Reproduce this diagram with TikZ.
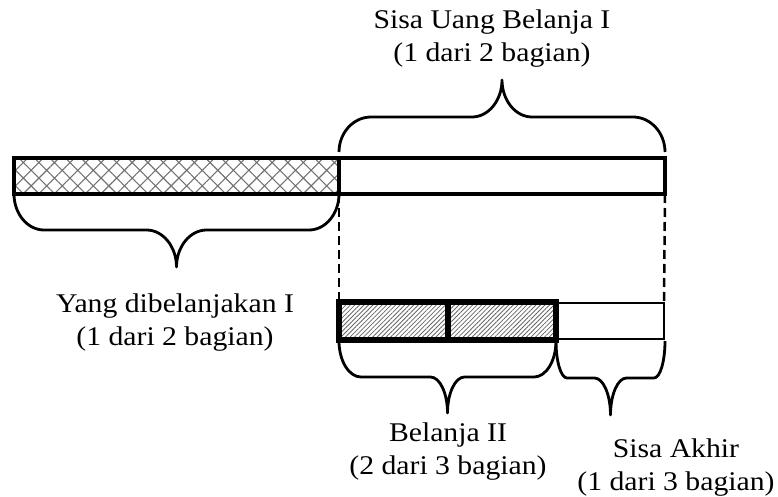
\documentclass[tikz,border=0pt]{standalone}
\usepackage{fontspec}
\setmainfont{Liberation Serif}[FakeStretch=1.1]
\usetikzlibrary{patterns.meta}
\tikzset{
  bar/.style={draw, anchor=north west, inner sep=0pt, outer sep=0pt},
  crossfill/.style={pattern={Hatch[angle=45,distance=11pt,line width=1.1pt]}, pattern color=black!55},
  slashfill/.style={pattern={Lines[angle=45,distance=3.2pt,line width=0.8pt]}, pattern color=black!60},
  bracestyle/.style={line width=2.8pt, line join=round},
  guide/.style={line width=2.5pt, dash pattern=on 9pt off 5pt},
  lbl/.style={align=center, font=\fontsize{27}{33}\selectfont, inner sep=0pt}
}
% #1 x1, #2 x2, #3 y start, #4 y flat, #5 y tip, #6 end radius, #7 middle radius
\newcommand{\mybrace}[7]{%
  \draw[bracestyle] (#1,#3) .. controls (#1,{#3+0.55*(#4-#3)}) and ({#1+0.45*#6},#4) .. ({#1+#6},#4)
    -- ({(#1+#2)/2-#7},#4) .. controls ({(#1+#2)/2-0.45*#7},#4) and ({(#1+#2)/2},{#4+0.45*(#5-#4)}) .. ({(#1+#2)/2},#5)
    .. controls ({(#1+#2)/2},{#4+0.45*(#5-#4)}) and ({(#1+#2)/2+0.45*#7},#4) .. ({(#1+#2)/2+#7},#4)
    -- ({#2-#6},#4) .. controls ({#2-0.45*#6},#4) and (#2,{#3+0.55*(#4-#3)}) .. (#2,#3);}
\begin{document}
\begin{tikzpicture}[x=1pt,y=-1pt]
\useasboundingbox (0,0) rectangle (778,497);
% top bar
\node[bar, line width=3.5pt, crossfill, minimum width=325pt, minimum height=36pt] (hatchA) at (14,158) {};
\node[bar, line width=3.5pt, minimum width=326pt, minimum height=36pt] (whiteA) at (339,158) {};
% lower bar
\node[bar, line width=2.5pt, minimum width=108pt, minimum height=36pt] (whiteB) at (556,303) {};
\node[bar, line width=5.5pt, slashfill, minimum width=109pt, minimum height=38pt] (hatchB1) at (339,302) {};
\node[bar, line width=5.5pt, slashfill, minimum width=108pt, minimum height=38pt] (hatchB2) at (448,302) {};
% dashed guides
\draw[guide] (whiteA.south west) -- (hatchB1.north west);
\draw[guide] (whiteA.south east) -- (whiteB.north east);
% braces
\mybrace{339}{665}{152}{117}{80}{32}{30}
\mybrace{14}{339}{194}{230}{267}{30}{30}
\mybrace{339}{556}{341}{377}{413}{22}{17}
\mybrace{556}{665}{341}{378}{415}{11}{16}
% labels
\node[lbl] (lblSisaUang) at (492,39) {Sisa Uang Belanja I\\(1 dari 2 bagian)};
\node[lbl] (lblYang) at (175,323) {Yang dibelanjakan I\\(1 dari 2 bagian)};
\node[lbl] (lblBelanja) at (448,452) {Belanja II\\(2 dari 3 bagian)};
\node[lbl] (lblSisaAkhir) at (676,468) {Sisa Akhir\\(1 dari 3 bagian)};
\end{tikzpicture}
\end{document}
